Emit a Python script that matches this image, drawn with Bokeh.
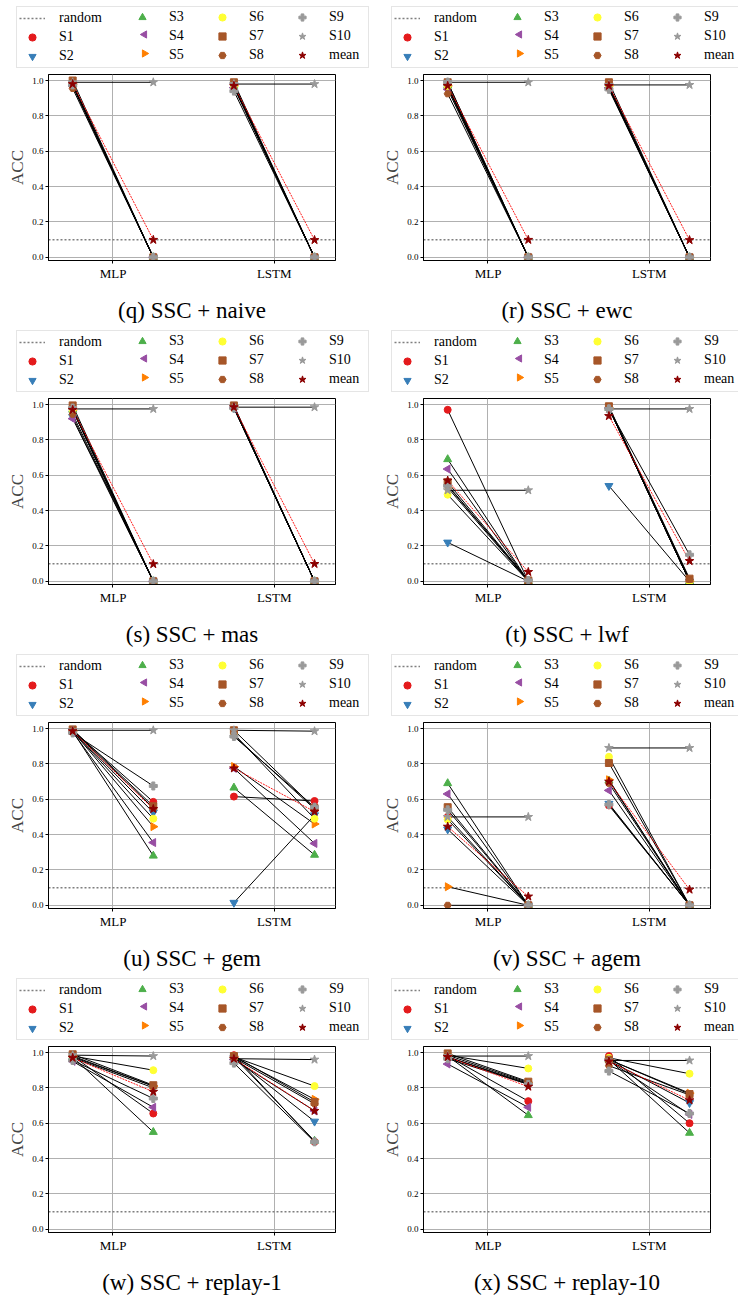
import math
from bokeh.plotting import figure
from bokeh.layouts import column, row
from bokeh.models import (ColumnDataSource, Legend, LegendItem,
                          FixedTicker, PrintfTickFormatter, Range1d)
from bokeh.core.properties import value
from bokeh.embed import file_html
from bokeh.resources import INLINE

# ---------------- data ----------------
SUBJECTS = ["S1", "S2", "S3", "S4", "S5", "S6", "S7", "S8", "S9", "S10"]
ARCHS = ["MLP", "LSTM"]
Y_TICKS = [0.0, 0.2, 0.4, 0.6, 0.8, 1.0]
RANDOM_ACC = 0.1
X_LIM = (-0.40, 1.38)
Y_LIM = (-0.018, 1.034)

CAPTIONS = ["(q) SSC + naive", "(r) SSC + ewc", "(s) SSC + mas", "(t) SSC + lwf",
            "(u) SSC + gem", "(v) SSC + agem", "(w) SSC + replay-1", "(x) SSC + replay-10"]

# accuracy of each subject: first point (before) and second point (after), per architecture
naive_mlp_before = [0.97, 0.98, 0.98, 0.97, 0.98, 0.98, 1.00, 0.955, 0.975, 0.99]
naive_mlp_after = [0.0, 0.0, 0.0, 0.0, 0.0, 0.0, 0.0, 0.0, 0.0, 0.99]
naive_lstm_before = [0.97, 0.97, 0.97, 0.96, 0.97, 0.97, 0.99, 0.98, 0.94, 0.98]
naive_lstm_after = [0.0, 0.0, 0.0, 0.0, 0.0, 0.0, 0.0, 0.0, 0.0, 0.98]
naive_mean = [0.98, 0.099, 0.97, 0.098]

ewc_mlp_before = [0.97, 0.96, 0.97, 0.95, 0.97, 0.97, 0.99, 0.925, 0.99, 0.99]
ewc_mlp_after = [0.0, 0.0, 0.0, 0.0, 0.0, 0.0, 0.0, 0.0, 0.0, 0.99]
ewc_lstm_before = [0.97, 0.96, 0.97, 0.96, 0.97, 0.97, 0.99, 0.955, 0.95, 0.975]
ewc_lstm_after = [0.0, 0.0, 0.0, 0.0, 0.0, 0.0, 0.0, 0.0, 0.0, 0.975]
ewc_mean = [0.97, 0.099, 0.97, 0.0975]

mas_mlp_before = [0.97, 0.93, 0.97, 0.92, 0.97, 0.97, 0.995, 0.945, 0.98, 0.975]
mas_mlp_after = [0.0, 0.0, 0.0, 0.0, 0.0, 0.0, 0.0, 0.0, 0.0, 0.975]
mas_lstm_before = [0.985, 0.98, 0.985, 0.98, 0.985, 0.985, 0.995, 0.99, 0.98, 0.985]
mas_lstm_after = [0.0, 0.0, 0.0, 0.0, 0.0, 0.0, 0.0, 0.0, 0.0, 0.985]
mas_mean = [0.97, 0.0975, 0.985, 0.0985]

lwf_mlp_before = [0.97, 0.22, 0.69, 0.635, 0.53, 0.49, 0.56, 0.545, 0.54, 0.515]
lwf_mlp_after = [0.0, 0.0, 0.0, 0.0, 0.0, 0.0, 0.005, 0.005, 0.005, 0.515]
lwf_lstm_before = [0.98, 0.54, 0.98, 0.98, 0.98, 0.98, 0.99, 0.985, 0.975, 0.975]
lwf_lstm_after = [0.0, 0.0, 0.0, 0.0, 0.0, 0.0, 0.015, 0.01, 0.15, 0.975]
lwf_mean = [0.57, 0.053, 0.935, 0.115]

gem_mlp_before = [0.99, 0.985, 0.985, 0.98, 0.985, 0.985, 0.995, 0.99, 0.975, 0.99]
gem_mlp_after = [0.585, 0.525, 0.28, 0.355, 0.445, 0.49, 0.56, 0.55, 0.675, 0.99]
gem_lstm_before = [0.615, 0.015, 0.665, 0.775, 0.785, 0.97, 0.99, 0.96, 0.955, 0.99]
gem_lstm_after = [0.59, 0.51, 0.285, 0.35, 0.46, 0.49, 0.55, 0.545, 0.555, 0.985]
gem_mean = [0.985, 0.545, 0.775, 0.53]

agem_mlp_before = [0.50, 0.43, 0.69, 0.63, 0.105, 0.485, 0.555, 0.0, 0.54, 0.50]
agem_mlp_after = [0.0, 0.0, 0.0, 0.0, 0.0, 0.0, 0.0, 0.0, 0.0, 0.50]
agem_lstm_before = [0.565, 0.575, 0.705, 0.65, 0.71, 0.84, 0.805, 0.69, 0.57, 0.89]
agem_lstm_after = [0.0, 0.0, 0.0, 0.0, 0.0, 0.0, 0.0, 0.0, 0.0, 0.89]
agem_mean = [0.445, 0.05, 0.70, 0.089]

replay1_mlp_before = [0.98, 0.97, 0.975, 0.95, 0.98, 0.98, 0.99, 0.975, 0.955, 0.985]
replay1_mlp_after = [0.655, 0.80, 0.55, 0.69, 0.81, 0.90, 0.815, 0.81, 0.74, 0.98]
replay1_lstm_before = [0.985, 0.97, 0.975, 0.96, 0.975, 0.975, 0.98, 0.97, 0.94, 0.965]
replay1_lstm_after = [0.495, 0.61, 0.50, 0.67, 0.735, 0.81, 0.72, 0.71, 0.495, 0.96]
replay1_mean = [0.97, 0.778, 0.965, 0.67]

replay10_mlp_before = [0.98, 0.975, 0.98, 0.935, 0.985, 0.985, 0.995, 0.975, 0.965, 0.98]
replay10_mlp_after = [0.725, 0.82, 0.645, 0.69, 0.83, 0.91, 0.835, 0.825, 0.82, 0.98]
replay10_lstm_before = [0.98, 0.955, 0.96, 0.955, 0.96, 0.97, 0.96, 0.925, 0.895, 0.955]
replay10_lstm_after = [0.60, 0.715, 0.545, 0.65, 0.77, 0.88, 0.765, 0.76, 0.655, 0.955]
replay10_mean = [0.975, 0.807, 0.95, 0.73]

PANELS = [
    (naive_mlp_before, naive_mlp_after, naive_lstm_before, naive_lstm_after, naive_mean),
    (ewc_mlp_before, ewc_mlp_after, ewc_lstm_before, ewc_lstm_after, ewc_mean),
    (mas_mlp_before, mas_mlp_after, mas_lstm_before, mas_lstm_after, mas_mean),
    (lwf_mlp_before, lwf_mlp_after, lwf_lstm_before, lwf_lstm_after, lwf_mean),
    (gem_mlp_before, gem_mlp_after, gem_lstm_before, gem_lstm_after, gem_mean),
    (agem_mlp_before, agem_mlp_after, agem_lstm_before, agem_lstm_after, agem_mean),
    (replay1_mlp_before, replay1_mlp_after, replay1_lstm_before, replay1_lstm_after, replay1_mean),
    (replay10_mlp_before, replay10_mlp_after, replay10_lstm_before, replay10_lstm_after, replay10_mean),
]

# ---------------- style ----------------
SERIF = "Liberation Serif"
OFF = 0.25
MARKERS = [
    ("circle", "#e41a1c", 0.0, 7),
    ("inverted_triangle", "#377eb8", 0.0, 8),
    ("triangle", "#4daf4a", 0.0, 8),
    ("triangle", "#984ea3", math.pi / 2, 8),
    ("triangle", "#ff7f00", -math.pi / 2, 8),
    ("circle", "#ffff33", 0.0, 7),
    ("square", "#a65628", 0.0, 7),
    ("hex", "#a65628", 0.0, 7),
    ("plus", "#999999", 0.0, 8),
    ("star", "#999999", 0.0, 9),
]
MEAN_STYLE = ("star", "#8b0000", 0.0, 9)
RAND_STYLE = dict(line_color="#7f7f7f", line_dash="2 2", line_width=1.5)

COL_W = 369
FW, FH = 287, 186
LEG_H_FIG = 74        # strip holding the legend above each plot
PLOT_BOTTOM = 24      # x-axis area under the frame
CAP_H = 40            # strip holding the caption
CAP_Y = 14            # caption centre above the caption strip's bottom
LEG_PAD = 2
LEG_W = 351
LEG_BOTTOM = [6, 10, 10, 10]   # legend bottom above the strip's bottom, per column
GLYPH_W, ROW_H, SPACING = 26, 18, 1
COL_X = [0, 113, 193, 273]   # column offsets inside the legend box


def make_panel(idx, caption, data):
    mb, ma, lb, la, mean = data
    col = idx % 2
    left = 48 if col == 0 else 54
    right = COL_W - left - FW
    p = figure(width=COL_W, height=FH + PLOT_BOTTOM, output_backend="svg",
               toolbar_location=None,
               x_range=Range1d(*X_LIM), y_range=Range1d(*Y_LIM),
               min_border_left=left, min_border_right=right,
               min_border_top=0, min_border_bottom=PLOT_BOTTOM)
    p.outline_line_color = "black"
    p.outline_line_width = 1
    p.background_fill_color = "white"

    # legend strip (same data sources, drawn out of view so only the legend shows)
    lf = figure(width=COL_W, height=LEG_H_FIG, output_backend="svg", toolbar_location=None,
                x_range=Range1d(100, 101), y_range=Range1d(100, 101),
                min_border=0, x_axis_location=None, y_axis_location=None)
    lf.outline_line_color = None
    lf.xgrid.visible = False
    lf.ygrid.visible = False
    lf.extra_x_ranges = {"px": Range1d(0, COL_W)}
    lf.extra_y_ranges = {"px": Range1d(0, LEG_H_FIG)}

    rand_src = ColumnDataSource(dict(x=list(X_LIM), y=[RANDOM_ACC, RANDOM_ACC]))
    p.line(x="x", y="y", source=rand_src, **RAND_STYLE)
    legend_renderers = [lf.line(x="x", y="y", source=rand_src, **RAND_STYLE)]

    # connecting lines
    x0, x1, y0, y1 = [], [], [], []
    for a, (bef, aft) in enumerate([(mb, ma), (lb, la)]):
        for i in range(len(SUBJECTS)):
            x0.append(a - OFF); x1.append(a + OFF)
            y0.append(bef[i]); y1.append(aft[i])
    p.segment(x0="x0", y0="y0", x1="x1", y1="y1",
              source=ColumnDataSource(dict(x0=x0, y0=y0, x1=x1, y1=y1)),
              line_color="black", line_width=1)
    p.segment(x0="x0", y0="y0", x1="x1", y1="y1",
              source=ColumnDataSource(dict(x0=[0 - OFF, 1 - OFF], x1=[0 + OFF, 1 + OFF],
                                           y0=[mean[0], mean[2]], y1=[mean[1], mean[3]])),
              line_color="red", line_width=0.9, line_dash="2 1")

    box_x = 16 if col == 0 else 22
    leg_h = 2 * LEG_PAD + 3 * ROW_H + 2 * SPACING

    xs = [0 - OFF, 0 + OFF, 1 - OFF, 1 + OFF]
    styles = MARKERS + [MEAN_STYLE]
    series = [[mb[i], ma[i], lb[i], la[i]] for i in range(len(SUBJECTS))] + [mean]
    for j, ((mk, c, ang, sz), ys) in enumerate(zip(styles, series)):
        src = ColumnDataSource(dict(x=xs, y=ys))
        kw = dict(marker=mk, size=sz, angle=ang, fill_color=c, line_color=c)
        p.scatter(x="x", y="y", source=src, **kw)
        if ang != 0.0:
            # legends draw markers unrotated: show a rotated marker in the legend slot
            legend_renderers.append(lf.scatter(x="x", y="y", source=src, marker=mk,
                                               size=sz, fill_alpha=0, line_alpha=0))
            k, r = divmod(j + 1, 3)
            leg_top = LEG_H_FIG - LEG_BOTTOM[k] - leg_h
            gx = box_x + COL_X[k] + LEG_PAD + GLYPH_W / 2
            gy = LEG_H_FIG - (leg_top + LEG_PAD + r * (ROW_H + SPACING) + ROW_H / 2)
            lf.scatter(x=[gx], y=[gy], marker=mk, angle=ang,
                       size=0.4 * min(GLYPH_W, ROW_H), fill_color=c, line_color=c,
                       x_range_name="px", y_range_name="px")
        else:
            legend_renderers.append(lf.scatter(x="x", y="y", source=src, **kw))

    labels = ["random"] + SUBJECTS + ["mean"]
    items = [LegendItem(label=t, renderers=[r]) for t, r in zip(labels, legend_renderers)]
    for k in range(4):
        lg = Legend(items=items[3 * k:3 * k + 3],
                    location=(box_x + COL_X[k], LEG_BOTTOM[k]),
                    orientation="vertical", nrows=3, ncols=1,
                    glyph_width=GLYPH_W, glyph_height=ROW_H, label_height=ROW_H,
                    label_standoff=14, spacing=SPACING, padding=LEG_PAD, margin=0,
                    label_text_font=SERIF, label_text_font_size="14px",
                    label_text_color="black", background_fill_alpha=0.0)
        if k == 0:
            lg.label_width = LEG_W - 2 * LEG_PAD - GLYPH_W - 14
            lg.border_line_color = "#cccccc"
            lg.border_line_width = 1
        else:
            lg.border_line_color = None
        lf.add_layout(lg)

    # caption strip
    cf = figure(width=COL_W, height=CAP_H, output_backend="svg", toolbar_location=None,
                x_range=Range1d(0, COL_W), y_range=Range1d(0, CAP_H),
                min_border=0, x_axis_location=None, y_axis_location=None)
    cf.outline_line_color = None
    cf.xgrid.visible = False
    cf.ygrid.visible = False
    cf.text(x=[left + FW / 2], y=[CAP_Y], text=[caption], text_font=value(SERIF),
            text_font_size="23px", text_align="center", text_baseline="middle",
            text_color="black")

    # axes
    p.yaxis.ticker = FixedTicker(ticks=Y_TICKS)
    p.yaxis.formatter = PrintfTickFormatter(format="%.1f")
    p.yaxis.axis_label = "ACC"
    p.yaxis.axis_label_text_font = SERIF
    p.yaxis.axis_label_text_font_size = "17px"
    p.yaxis.axis_label_text_font_style = "normal"
    p.yaxis.axis_label_standoff = 2
    p.yaxis.major_label_text_font_size = "9px"
    p.xaxis.ticker = FixedTicker(ticks=[0, 1])
    p.xaxis.major_label_overrides = {0: ARCHS[0], 1: ARCHS[1]}
    p.xaxis.major_label_text_font_size = "13px"
    for ax in (p.xaxis, p.yaxis):
        ax.major_label_text_font = SERIF
        ax.major_label_text_color = "black"
        ax.major_tick_in = 0
        ax.major_tick_out = 3
        ax.major_tick_line_color = "black"
        ax.minor_tick_line_color = None
        ax.axis_line_color = "black"
        ax.major_label_standoff = 2
    p.xgrid.grid_line_color = "#b0b0b0"
    p.ygrid.grid_line_color = "#b0b0b0"
    p.xgrid.grid_line_width = 1
    p.ygrid.grid_line_width = 1
    return lf, p, cf


panels = [make_panel(i, CAPTIONS[i], PANELS[i]) for i in range(8)]
blocks = []
for r in range(4):
    a, b = panels[2 * r], panels[2 * r + 1]
    for part in range(3):
        blocks.append(row(a[part], b[part]))
layout = column(*blocks)

open("out.html", "w").write(file_html(layout, INLINE))
